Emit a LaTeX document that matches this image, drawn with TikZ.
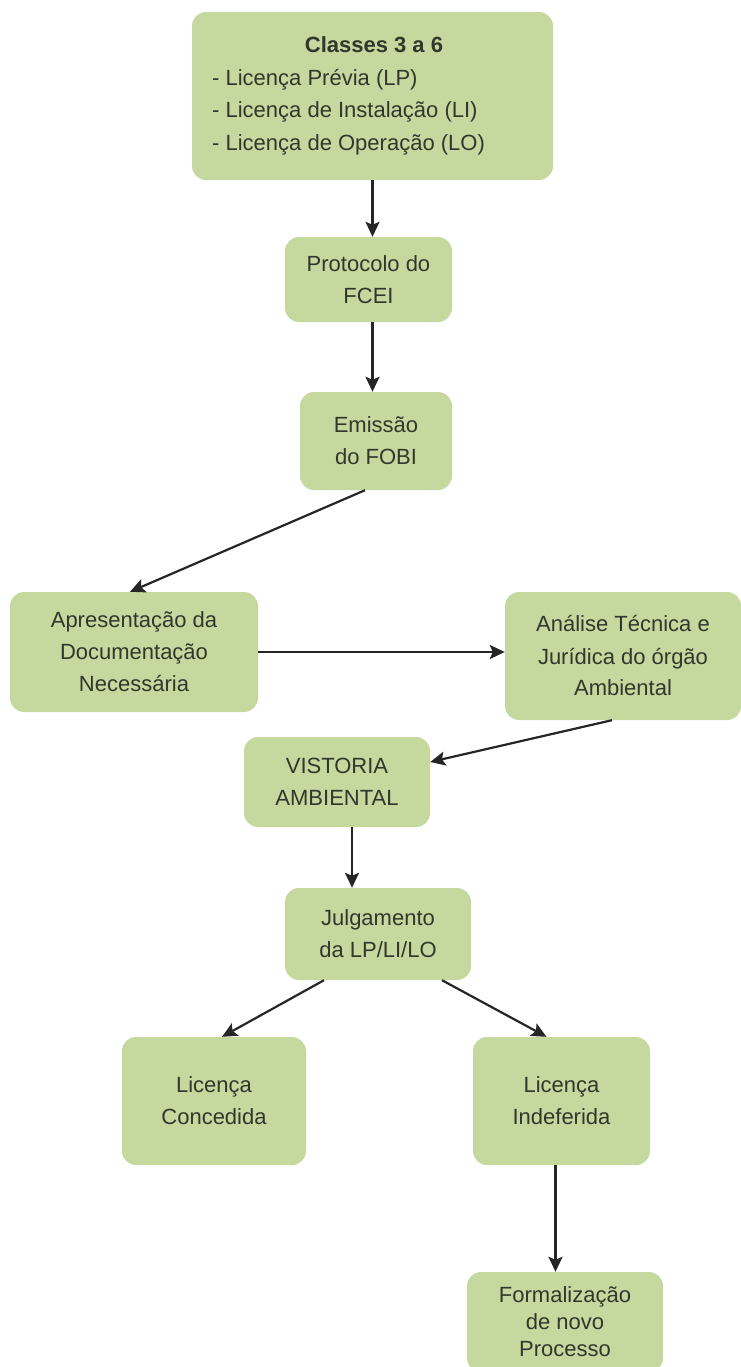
\documentclass[tikz,border=0pt]{standalone}
\usepackage{fontspec}
\setmainfont{Liberation Sans}
\usetikzlibrary{arrows.meta}
\definecolor{boxgreen}{RGB}{197,216,158}
\definecolor{txt}{RGB}{50,55,45}
\begin{document}
\begin{tikzpicture}[x=1pt,y=-1pt,
  box/.style={draw=none, fill=boxgreen, rounded corners=14pt, text=txt, align=center,
    font=\fontsize{22}{32}\selectfont, inner sep=0pt},
  lbl/.style={text=txt, font=\fontsize{22}{32.5}\selectfont, inner sep=0pt},
  arr/.style={draw=black!85, line width=2.2pt, -{Stealth[length=15pt,width=14pt,inset=3pt]}}]
\useasboundingbox (0,0) rectangle (741,1367);
% boxes
\node[box, minimum width=361pt, minimum height=168pt] (top) at (372.5,96) {};
\node[lbl, font=\fontsize{22}{32.5}\selectfont\bfseries] (title) at (374,45) {Classes 3 a 6};
\node[lbl, align=left, anchor=north west] (list) at (212,69) {- Licença Prévia (LP)\\- Licença de Instalação (LI)\\- Licença de Operação (LO)};
\node[box, minimum width=167pt, minimum height=85pt] (prot) at (368.5,279.5) {Protocolo do\\FCEI};
\node[box, minimum width=152pt, minimum height=98pt] (emis) at (376,441) {Emissão\\do FOBI};
\node[box, minimum width=248pt, minimum height=120pt] (apres) at (134,652) {Apresentação da\\Documentação\\Necessária};
\node[box, minimum width=236pt, minimum height=128pt] (anal) at (623,656) {Análise Técnica e\\Jurídica do órgão\\Ambiental};
\node[box, minimum width=186pt, minimum height=90pt] (vist) at (337,782) {VISTORIA\\AMBIENTAL};
\node[box, minimum width=186pt, minimum height=92pt] (julg) at (378,934) {Julgamento\\da LP/LI/LO};
\node[box, minimum width=184pt, minimum height=128pt] (conc) at (214,1101) {Licença\\Concedida};
\node[box, minimum width=177pt, minimum height=128pt] (indef) at (561.5,1101) {Licença\\Indeferida};
\node[box, minimum width=196pt, minimum height=100pt, font=\fontsize{22}{27}\selectfont] (form) at (565,1322) {Formalização\\de novo\\Processo};
% connectors
\draw[arr] (top.south) -- (top.south |- prot.north);
\draw[arr] ([xshift=4pt]prot.south) -- ([xshift=4pt]prot.south |- emis.north);
\draw[arr] ([xshift=-11pt]emis.south) -- ([xshift=-4pt]apres.north);
\draw[arr] (apres.east) -- (apres.east -| anal.west);
\draw[arr] ([xshift=-11pt]anal.south) -- ([yshift=20pt]vist.east);
\draw[arr] ([xshift=15pt]vist.south) -- ([xshift=15pt]vist.south |- julg.north);
\draw[arr] ([xshift=-54pt]julg.south) -- ([xshift=8pt]conc.north);
\draw[arr] ([xshift=64pt]julg.south) -- ([xshift=-15pt]indef.north);
\draw[arr] ([xshift=-6pt]indef.south) -- ([xshift=-6pt]indef.south |- form.north);
\end{tikzpicture}
\end{document}
